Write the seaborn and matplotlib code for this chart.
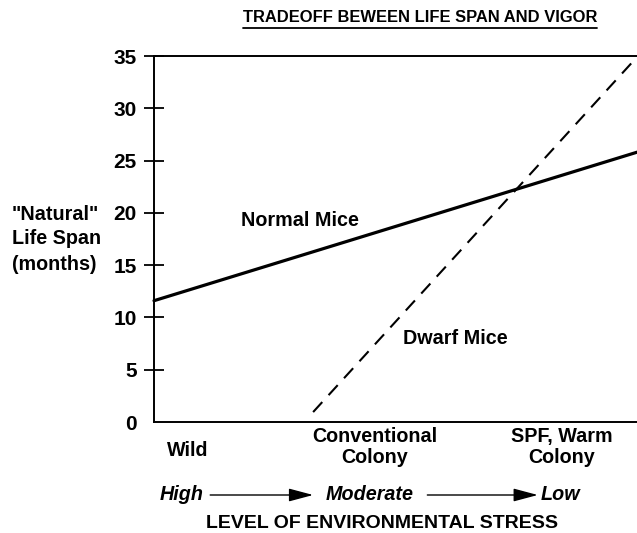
import matplotlib
matplotlib.use("Agg")
import matplotlib.pyplot as plt
import seaborn as sns
import pandas as pd
from matplotlib.lines import Line2D

# ---- data ----
categories = ["Wild", "Conventional\nColony", "SPF, Warm\nColony"]
stress_levels = ["High", "Moderate", "Low"]
normal_x = [-0.18, 2.40]
normal_y = [11.6, 25.8]
dwarf_x = [0.67, 2.40]
dwarf_y = [0.95, 34.9]
yticks = [0, 5, 10, 15, 20, 25, 30, 35]

sns.set_style("white")
plt.rcParams['font.family'] = ['Liberation Sans', 'DejaVu Sans']
plt.rcParams['text.color'] = 'black'
plt.rcParams['axes.labelcolor'] = 'black'
plt.rcParams['xtick.color'] = 'black'
plt.rcParams['ytick.color'] = 'black'

FS = 14.2

fig = plt.figure(figsize=(6.37, 5.33), dpi=100)
ax = fig.add_axes([154/637, 111/533, 1 - 154/637, 366/533])

normal_df = pd.DataFrame({"x": normal_x, "y": normal_y})
dwarf_df = pd.DataFrame({"x": dwarf_x, "y": dwarf_y})
sns.lineplot(data=normal_df, x="x", y="y", ax=ax, color="black", lw=2.3, clip_on=False)
sns.lineplot(data=dwarf_df, x="x", y="y", ax=ax, color="black", lw=1.5)
ax.lines[-1].set_dashes((6.5, 4.5))

ax.set_xlim(-0.18, 2.40)
ax.set_ylim(0, 35)
ax.set_xlabel("")
ax.set_ylabel("")
ax.set_xticks([])
ax.set_yticks(yticks)
ax.set_yticklabels([str(v) for v in yticks], fontsize=15, fontweight="bold", color="black")
ax.tick_params(axis="y", direction="inout", length=14, width=1.3, pad=5.5, color="black",
               labelcolor="black", left=True)
ax.yaxis.get_major_ticks()[0].tick1line.set_visible(False)
for s in ["left", "bottom", "top"]:
    ax.spines[s].set_visible(True)
    ax.spines[s].set_linewidth(1.4)
    ax.spines[s].set_color("black")
ax.spines["right"].set_visible(False)

# Line labels
ax.text(0.60, 19.3, "Normal Mice", fontsize=FS, fontweight="bold", ha="center", va="center")
ax.text(1.43, 8.0, "Dwarf Mice", fontsize=FS, fontweight="bold", ha="center", va="center")

# Category labels
trans = ax.get_xaxis_transform()
cat_y = [(533 - 450) / 533, (533 - 447) / 533, (533 - 447) / 533]
for i, c in enumerate(categories):
    ax_y = (cat_y[i] - 111/533) / (366/533)
    ax.text(i, ax_y, c, transform=trans, fontsize=FS, fontweight="bold",
            ha="center", va="center", linespacing=1.09)

# stress row
sy = ((533 - 495) / 533 - 111/533) / (366/533)
label_x = [-0.03, 0.97, 1.99]
for s, lx in zip(stress_levels, label_x):
    ax.text(lx, sy, s, transform=trans, fontsize=FS, fontweight="bold",
            fontstyle="italic", ha="center", va="center")
arrow_spans = [(0.12, 0.67), (1.28, 1.87)]
for a, b in arrow_spans:
    ax.annotate("", xy=(b, sy), xytext=(a, sy), xycoords=trans, textcoords=trans,
                annotation_clip=False,
                arrowprops=dict(arrowstyle="-|>,head_length=1.5,head_width=0.4", lw=1.0,
                                color="black", shrinkA=0, shrinkB=0))

fig.text(382/637, 1 - 523/533, "LEVEL OF ENVIRONMENTAL STRESS", fontsize=14,
         fontweight="bold", ha="center", va="center")

# y label
fig.text(12/637, 1 - 239/533, "\"Natural\"\nLife Span\n(months)", fontsize=FS,
         fontweight="bold", ha="left", va="center", linespacing=1.40)

# title with underline
t = fig.text(420/637, 1 - 18/533, "TRADEOFF BEWEEN LIFE SPAN AND VIGOR", fontsize=11.9,
             fontweight="bold", ha="center", va="center")
fig.canvas.draw()
bb = t.get_window_extent().transformed(fig.transFigure.inverted())
fig.lines.append(Line2D([bb.x0, bb.x1], [1 - 28/533, 1 - 28/533], transform=fig.transFigure,
                        color="black", lw=1.3))

fig.savefig("out.png", dpi=100)
